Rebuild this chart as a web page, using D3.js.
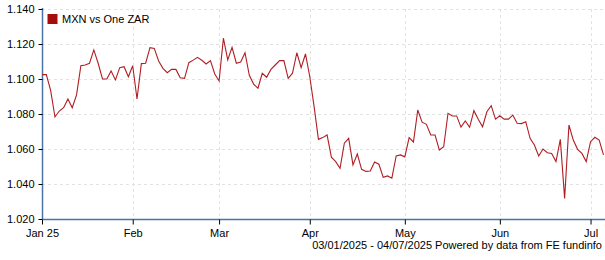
<!DOCTYPE html>
<html>
<head>
<meta charset="utf-8">
<script src="https://cdn.jsdelivr.net/npm/d3@7"></script>
<style>
  body { margin: 0; background: #fff; }
  text { font-family: Arial, "Liberation Sans", sans-serif; font-size: 11px; fill: #000; }
</style>
</head>
<body>
<svg width="605" height="260"></svg>
<script>
// MXN vs One ZAR, one value per trading day, 03/01/2025 - 04/07/2025
var rates = [
  1.1025, 1.1025, 1.0935, 1.0783, 1.0817, 1.0836, 1.0886, 1.0836, 1.0909, 1.1076,
  1.1080, 1.1090, 1.1166, 1.1090, 1.1000, 1.1000, 1.1046, 1.0995, 1.1065, 1.1070,
  1.1013, 1.1076, 1.0886, 1.1088, 1.1090, 1.1179, 1.1175, 1.1103, 1.1061, 1.1036,
  1.1055, 1.1055, 1.1007, 1.1004, 1.1093, 1.1108, 1.1124, 1.1107, 1.1086, 1.1105,
  1.1029, 1.0989, 1.1233, 1.1109, 1.1181, 1.1090, 1.1097, 1.1150, 1.1021, 1.0971,
  1.0947, 1.1033, 1.1010, 1.1055, 1.1080, 1.1105, 1.1105, 1.1004, 1.1033, 1.1150,
  1.1065, 1.1143, 1.1013, 1.0842, 1.0655, 1.0665, 1.0680, 1.0553, 1.0528, 1.0490,
  1.0633, 1.0661, 1.0509, 1.0571, 1.0484, 1.0472, 1.0474, 1.0526, 1.0513, 1.0438,
  1.0446, 1.0433, 1.0560, 1.0566, 1.0555, 1.0665, 1.0640, 1.0823, 1.0753, 1.0741,
  1.0680, 1.0680, 1.0594, 1.0613, 1.0804, 1.0789, 1.0789, 1.0725, 1.0760, 1.0724,
  1.0819, 1.0770, 1.0727, 1.0813, 1.0848, 1.0771, 1.0790, 1.0771, 1.0771, 1.0794,
  1.0747, 1.0745, 1.0756, 1.0661, 1.0623, 1.0560, 1.0600, 1.0579, 1.0575, 1.0528,
  1.0655, 1.0318, 1.0737, 1.0651, 1.0598, 1.0575, 1.0528, 1.0642, 1.0667, 1.0651,
  1.0566
];

// first trading day of each month (index into rates) and its label
var monthIndex = [0, 21, 41, 62, 84, 106, 127];
var monthLabels = ["Jan 25", "Feb", "Mar", "Apr", "May", "Jun", "Jul"];

var yTicks = [1.02, 1.04, 1.06, 1.08, 1.10, 1.12, 1.14];
var seriesName = "MXN vs One ZAR";
var footer = "03/01/2025 - 04/07/2025 Powered by data from FE fundinfo";

var plotLeft = 42, plotRight = 604, plotTop = 9, plotBottom = 219;
var axisColor = "#4a74a8", gridColor = "#e2e2e2", lineColor = "#b01e23";

var svg = d3.select("svg");

var x = d3.scaleLinear().domain([0, rates.length - 1]).range([plotLeft, plotRight - 0.5]);
var y = d3.scaleLinear().domain([1.02, 1.14]).range([plotBottom, plotTop]);

// gridlines
svg.append("g").selectAll("line")
    .data(yTicks.slice(1))
  .enter().append("line")
    .attr("x1", plotLeft).attr("x2", plotRight)
    .attr("y1", function(d) { return Math.round(y(d)) + 0.5; })
    .attr("y2", function(d) { return Math.round(y(d)) + 0.5; })
    .style("stroke", gridColor)
    .style("stroke-dasharray", "3,3");

svg.append("g").selectAll("line")
    .data(monthIndex.slice(1))
  .enter().append("line")
    .attr("x1", function(d) { return Math.round(x(d)) + 0.5; })
    .attr("x2", function(d) { return Math.round(x(d)) + 0.5; })
    .attr("y1", plotTop).attr("y2", plotBottom)
    .style("stroke", gridColor)
    .style("stroke-dasharray", "3,3");

// y axis
var yAxis = svg.append("g")
    .attr("transform", "translate(" + (plotLeft + 0.5) + ",0)")
    .call(d3.axisLeft(y).tickValues(yTicks).tickFormat(d3.format(".3f")).tickSize(4).tickPadding(4));
yAxis.select(".domain").attr("d", "M0," + (plotTop - 1) + "V" + (plotBottom + 0.5));

// x axis
var xAxis = svg.append("g")
    .attr("transform", "translate(0," + (plotBottom + 0.5) + ")")
    .call(d3.axisBottom(x).tickValues(monthIndex)
      .tickFormat(function(d, i) { return monthLabels[i]; })
      .tickSize(5).tickPadding(5));
xAxis.select(".domain").attr("d", "M" + plotLeft + ",0H" + 605);

svg.selectAll(".domain").style("stroke", axisColor).style("stroke-width", 1.5);
svg.selectAll(".tick line").style("stroke", "#000");
svg.selectAll(".tick text")
    .style("font-family", "Arial, 'Liberation Sans', sans-serif")
    .style("font-size", "11px")
    .style("fill", "#000");

// series line
var line = d3.line()
    .x(function(d, i) { return x(i); })
    .y(function(d) { return y(d); });

svg.append("path")
    .datum(rates)
    .attr("d", line)
    .style("fill", "none")
    .style("stroke", lineColor)
    .style("stroke-width", 1.1);

// legend
svg.append("rect")
    .attr("x", 47.5).attr("y", 14)
    .attr("width", 10).attr("height", 10)
    .style("fill", "#a50d0d");

svg.append("text")
    .attr("x", 62).attr("y", 23)
    .text(seriesName);

// footer
svg.append("text")
    .attr("x", 602).attr("y", 249)
    .attr("text-anchor", "end")
    .text(footer);
</script>
</body>
</html>
